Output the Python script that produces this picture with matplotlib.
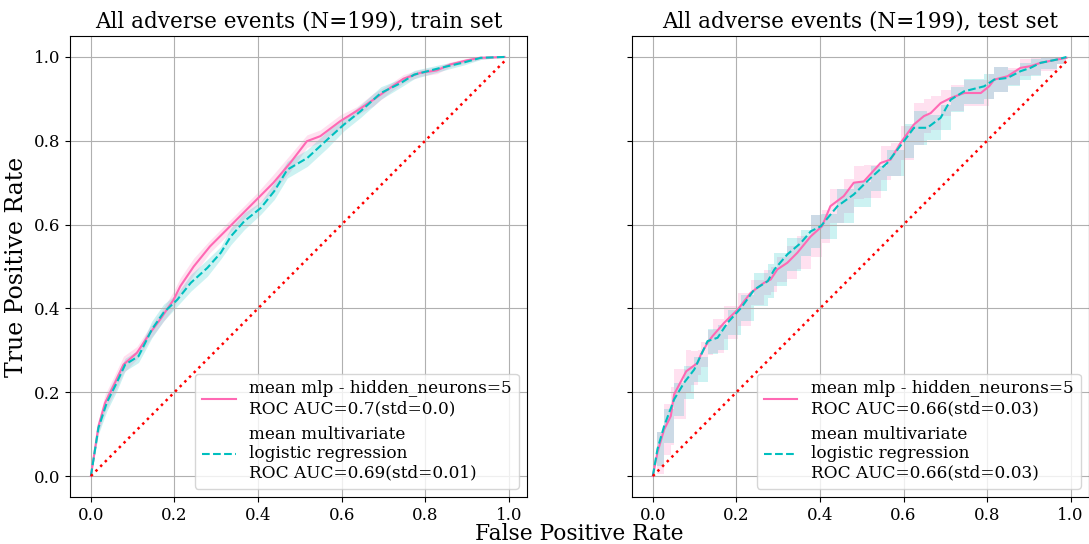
import numpy as np
import matplotlib.pyplot as plt

plt.rcParams['font.family'] = 'DejaVu Serif'

# mean ROC curves, train set
train_fpr_mlp = [0.0, 0.018, 0.034, 0.054, 0.078, 0.11, 0.142, 0.166, 0.198, 0.214, 0.246, 0.285,
                 0.325, 0.357, 0.397, 0.437, 0.477, 0.517, 0.549, 0.597, 0.636, 0.676, 0.716,
                 0.748, 0.788, 0.828, 0.86, 0.9, 0.931, 0.99]
train_tpr_mlp = [0.0, 0.119, 0.175, 0.215, 0.266, 0.294, 0.342, 0.374, 0.421, 0.453, 0.5, 0.548,
                 0.588, 0.62, 0.66, 0.70, 0.747, 0.799, 0.811, 0.847, 0.871, 0.898, 0.926,
                 0.948, 0.962, 0.968, 0.982, 0.992, 0.998, 1.0]
train_std_mlp = [0.0, 0.015, 0.02, 0.02, 0.02, 0.015, 0.015, 0.015, 0.02, 0.02, 0.02, 0.015,
                 0.015, 0.015, 0.015, 0.02, 0.02, 0.015, 0.015, 0.015, 0.01, 0.015, 0.01,
                 0.01, 0.008, 0.008, 0.006, 0.005, 0.004, 0.0]

train_fpr_lr = [0.0, 0.018, 0.038, 0.062, 0.082, 0.114, 0.146, 0.174, 0.207, 0.239, 0.279, 0.311,
                0.335, 0.367, 0.407, 0.439, 0.47, 0.518, 0.566, 0.606, 0.646, 0.694, 0.742,
                0.774, 0.837, 0.893, 0.933, 0.99]
train_tpr_lr = [0.0, 0.115, 0.175, 0.223, 0.266, 0.286, 0.35, 0.39, 0.421, 0.461, 0.497, 0.533,
                0.572, 0.608, 0.64, 0.68, 0.731, 0.759, 0.803, 0.839, 0.871, 0.914, 0.938,
                0.958, 0.974, 0.987, 0.998, 1.0]
train_std_lr = [0.0, 0.015, 0.02, 0.02, 0.015, 0.015, 0.02, 0.02, 0.015, 0.02, 0.02, 0.015,
                0.02, 0.02, 0.015, 0.02, 0.02, 0.02, 0.02, 0.015, 0.015, 0.015, 0.01,
                0.01, 0.008, 0.006, 0.004, 0.0]

# mean ROC curves, test set
test_fpr_mlp = [0.0, 0.011, 0.027, 0.043, 0.051, 0.08, 0.091, 0.107, 0.115, 0.131, 0.143, 0.171,
                0.203, 0.234, 0.266, 0.282, 0.298, 0.322, 0.346, 0.378, 0.405, 0.425, 0.457,
                0.481, 0.505, 0.545, 0.569, 0.593, 0.625, 0.649, 0.665, 0.689, 0.713, 0.745,
                0.785, 0.805, 0.817, 0.849, 0.88, 0.904, 0.928, 0.968, 0.99]
test_tpr_mlp = [0.0, 0.056, 0.111, 0.143, 0.195, 0.25, 0.258, 0.27, 0.29, 0.318, 0.334, 0.366,
                0.397, 0.437, 0.461, 0.469, 0.493, 0.509, 0.533, 0.572, 0.596, 0.644, 0.668,
                0.70, 0.703, 0.747, 0.755, 0.795, 0.839, 0.859, 0.866, 0.89, 0.902, 0.914,
                0.914, 0.93, 0.946, 0.954, 0.974, 0.978, 0.986, 0.994, 0.998]
test_std_mlp = [0.0, 0.05, 0.06, 0.07, 0.06, 0.05, 0.04, 0.03, 0.03, 0.03, 0.04, 0.04,
                0.04, 0.03, 0.03, 0.03, 0.03, 0.04, 0.04, 0.05, 0.04, 0.04, 0.04,
                0.04, 0.04, 0.04, 0.04, 0.04, 0.05, 0.04, 0.04, 0.03, 0.03, 0.03,
                0.03, 0.03, 0.03, 0.02, 0.02, 0.02, 0.02, 0.01, 0.0]

test_fpr_lr = [0.0, 0.011, 0.027, 0.051, 0.075, 0.099, 0.131, 0.155, 0.179, 0.211, 0.243, 0.275,
               0.291, 0.322, 0.354, 0.378, 0.402, 0.442, 0.481, 0.521, 0.561, 0.601, 0.625,
               0.657, 0.689, 0.713, 0.745, 0.793, 0.817, 0.849, 0.88, 0.904, 0.928, 0.968, 0.99]
test_tpr_lr = [0.0, 0.064, 0.119, 0.183, 0.223, 0.254, 0.322, 0.33, 0.366, 0.401, 0.445, 0.465,
               0.493, 0.529, 0.556, 0.584, 0.596, 0.644, 0.672, 0.711, 0.747, 0.799, 0.831,
               0.831, 0.855, 0.898, 0.918, 0.93, 0.946, 0.95, 0.966, 0.974, 0.986, 0.994, 1.0]
test_std_lr = [0.0, 0.04, 0.04, 0.04, 0.04, 0.03, 0.03, 0.03, 0.03, 0.03, 0.04, 0.04,
               0.04, 0.04, 0.03, 0.04, 0.03, 0.04, 0.03, 0.03, 0.03, 0.04, 0.04,
               0.03, 0.03, 0.03, 0.03, 0.03, 0.03, 0.02, 0.02, 0.02, 0.015, 0.01, 0.0]

titles = ["All adverse events (N=199), train set", "All adverse events (N=199), test set"]
label_mlp = ["mean mlp - hidden_neurons=5\nROC AUC=0.7(std=0.0)",
             "mean mlp - hidden_neurons=5\nROC AUC=0.66(std=0.03)"]
label_lr = ["mean multivariate\nlogistic regression\nROC AUC=0.69(std=0.01)",
            "mean multivariate\nlogistic regression\nROC AUC=0.66(std=0.03)"]

curves = [
    (train_fpr_mlp, train_tpr_mlp, train_std_mlp, train_fpr_lr, train_tpr_lr, train_std_lr, None),
    (test_fpr_mlp, test_tpr_mlp, test_std_mlp, test_fpr_lr, test_tpr_lr, test_std_lr, 'post'),
]

fig = plt.figure(figsize=(10.89, 5.44), dpi=100)
ax1 = fig.add_axes((0.0643, 0.0864, 0.4197, 0.8474))
ax2 = fig.add_axes((0.5803, 0.0864, 0.4197, 0.8474), sharey=ax1)

for k, ax in enumerate([ax1, ax2]):
    f1, t1, s1, f2, t2, s2, step = curves[k]
    t1, s1, t2, s2 = map(np.array, (t1, s1, t2, s2))
    ax.fill_between(f1, np.minimum(t1 + s1, 1), t1 - s1, color='hotpink', alpha=0.2, lw=0, step=step)
    ax.fill_between(f2, np.minimum(t2 + s2, 1), t2 - s2, color='c', alpha=0.2, lw=0, step=step)
    ax.plot(f1, t1, color='hotpink', lw=1.5, label=label_mlp[k])
    ax.plot(f2, t2, color='c', lw=1.5, ls='--', label=label_lr[k])
    # chance line
    ax.plot([0, 0.99], [0, 0.99], color='red', ls=':', lw=1.8)
    ax.set_xlim(-0.05, 1.044)
    ax.set_ylim(-0.05, 1.05)
    ax.set_xticks([0, 0.2, 0.4, 0.6, 0.8, 1.0])
    ax.set_yticks([0, 0.2, 0.4, 0.6, 0.8, 1.0])
    ax.grid(True)
    ax.tick_params(labelsize=12)
    ax.set_title(titles[k], fontsize=15.5)
    ax.legend(loc='lower right', fontsize=12.2)

ax2.tick_params(labelleft=False)
ax1.set_ylabel("True Positive Rate", fontsize=17)
ax1.yaxis.set_label_coords(-0.092, 0.5)
fig.text(0.532, 0.0074, "False Positive Rate", fontsize=15.7, ha='center', va='baseline')

fig.savefig("out.png", dpi=100)
